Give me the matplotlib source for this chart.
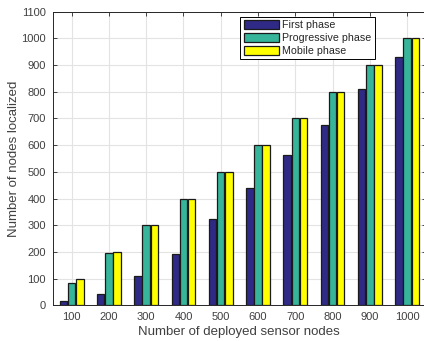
import numpy as np
import matplotlib
matplotlib.use('Agg')
import matplotlib.pyplot as plt

plt.rcParams['font.family'] = ['Liberation Sans', 'DejaVu Sans']

# deployed nodes and localized nodes per phase
nodes = [100, 200, 300, 400, 500, 600, 700, 800, 900, 1000]
first_phase = [16, 44, 109, 192, 324, 441, 563, 676, 810, 929]
progressive_phase = [85, 197, 300, 400, 500, 600, 700, 800, 900, 1000]
mobile_phase = [100, 200, 300, 400, 500, 600, 700, 800, 900, 1000]
series_names = ['First phase', 'Progressive phase', 'Mobile phase']
colors = ['#2f2a85', '#36b59b', '#ffff00']

fig = plt.figure(figsize=(4.24, 3.41), dpi=100)
ax = fig.add_axes([0.125, 0.1047, 0.879, 0.861])

index = np.arange(1, len(nodes) + 1)
w = 0.2
off = 0.22
for k, vals in enumerate([first_phase, progressive_phase, mobile_phase]):
    ax.bar(index + (k - 1) * off, vals, w, color=colors[k], edgecolor='#1a1a1a',
           linewidth=0.9, label=series_names[k], zorder=3)

ax.set_xlim(0.5, 10.5)
ax.set_ylim(0, 1100)
ax.set_xticks(index)
ax.set_xticklabels([str(n) for n in nodes])
ax.set_yticks(np.arange(0, 1101, 100))
ax.grid(True, color='#e3e3e3', linewidth=0.8, zorder=0)
ax.tick_params(direction='in', top=True, right=True, length=3, width=0.6,
               labelsize=8, colors='#262626', labelcolor='#404040', pad=5)
for s in ax.spines.values():
    s.set_color('#262626')
    s.set_linewidth(0.7)

ax.set_xlabel('Number of deployed sensor nodes', fontsize=9.5, color='#404040', labelpad=3)
ax.set_ylabel('Number of nodes localized', fontsize=9.5, color='#404040', labelpad=1)

leg = ax.legend(loc='upper left', bbox_to_anchor=(0.503, 0.983), fontsize=7.7,
                fancybox=False, framealpha=1, edgecolor='black',
                handlelength=3.3, handleheight=0.95, handletextpad=0.3,
                labelspacing=0.25, borderpad=0.3, borderaxespad=0)
leg.get_frame().set_linewidth(0.7)
for t in leg.get_texts():
    t.set_color('#262626')

fig.savefig('out.png', dpi=100)
